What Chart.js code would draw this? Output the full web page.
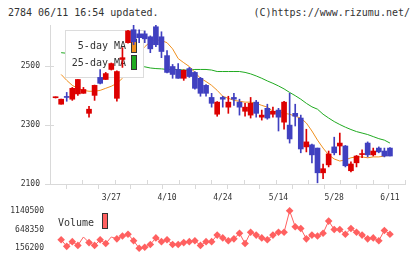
<!DOCTYPE html>
<html>
<head>
<meta charset="utf-8">
<script src="https://cdn.jsdelivr.net/npm/chart.js@4"></script>
<style>
  body { margin: 0; background: #fff; width: 420px; height: 259px; overflow: hidden; position: relative;
         font-family: "DejaVu Sans Mono", monospace; color: #333; }
  .hd { position: absolute; top: 7px; font-size: 10px; line-height: 11px; white-space: nowrap; }
  #priceChart { position: absolute; left: 0; top: 0; }
  #volumeChart { position: absolute; left: 0; top: 200px; }
</style>
</head>
<body>
<div class="hd" style="left:8px">2784 06/11 16:54 updated.</div>
<div class="hd" style="right:10px">(C)https://www.rizumu.net/</div>
<canvas id="priceChart" width="420" height="206"></canvas>
<canvas id="volumeChart" width="420" height="59"></canvas>
<script>
// candles, day 1 .. day 61
const opens  = [2393, 2371, 2396, 2388, 2406, 2408, 2340, 2401, 2462, 2455, 2489, 2391, 2523, 2580, 2624, 2610, 2610, 2600, 2634, 2600,
                2536, 2499, 2489, 2459, 2492, 2479, 2459, 2435, 2394, 2337, 2394, 2361, 2394, 2378, 2347, 2334, 2378, 2327, 2357, 2337,
                2351, 2310, 2300, 2340, 2324, 2226, 2233, 2222, 2138, 2165, 2226, 2229, 2229, 2145, 2172, 2200, 2239, 2199, 2222, 2212, 2222];
const highs  = [2396, 2388, 2411, 2428, 2455, 2428, 2364, 2436, 2489, 2479, 2511, 2484, 2563, 2622, 2640, 2624, 2620, 2603, 2640, 2617,
                2553, 2506, 2509, 2488, 2496, 2482, 2462, 2438, 2408, 2380, 2398, 2398, 2408, 2388, 2374, 2394, 2384, 2351, 2371, 2361,
                2357, 2381, 2408, 2371, 2334, 2286, 2236, 2222, 2168, 2212, 2259, 2273, 2231, 2175, 2197, 2216, 2243, 2222, 2226, 2222, 2224];
const lows   = [2392, 2371, 2381, 2384, 2401, 2408, 2327, 2384, 2440, 2455, 2487, 2381, 2496, 2578, 2573, 2580, 2580, 2546, 2566, 2529,
                2477, 2459, 2459, 2452, 2462, 2422, 2398, 2398, 2361, 2330, 2361, 2340, 2367, 2334, 2330, 2324, 2327, 2317, 2320, 2327,
                2280, 2286, 2239, 2297, 2206, 2209, 2172, 2104, 2118, 2158, 2199, 2199, 2158, 2141, 2158, 2189, 2192, 2195, 2206, 2192, 2195];
const closes = [2395, 2388, 2394, 2425, 2455, 2421, 2354, 2435, 2442, 2475, 2509, 2482, 2529, 2620, 2583, 2597, 2593, 2559, 2573, 2550,
                2479, 2472, 2459, 2486, 2465, 2425, 2408, 2408, 2374, 2378, 2388, 2378, 2388, 2361, 2361, 2374, 2340, 2334, 2324, 2347,
                2327, 2378, 2253, 2330, 2219, 2243, 2199, 2138, 2152, 2202, 2206, 2239, 2162, 2168, 2195, 2203, 2199, 2212, 2209, 2195, 2195];

const ma5  = [null, 2472, 2452, 2435, 2425, 2418, 2415, 2415, 2418, 2425, 2432, 2442, 2459, 2492, 2519, 2546, 2566, 2583, 2590, 2587,
              2580, 2559, 2526, 2512, 2499, 2479, 2459, 2448, 2435, 2418, 2398, 2391, 2384, 2381, 2378, 2378, 2374, 2367, 2361, 2347,
              2344, 2340, 2337, 2330, 2324, 2307, 2280, 2249, 2222, 2199, 2185, 2178, 2182, 2189, 2192, 2192, 2189, 2192, 2192, 2195, 2199];
const ma25 = [null, 2546, 2544, 2541, 2538, 2535, 2531, 2528, 2524, 2520, 2516, 2512, 2508, 2505, 2502, 2500, 2498, 2494, 2492, 2491,
              2489, 2489, 2489, 2487, 2487, 2489, 2489, 2489, 2487, 2482, 2482, 2482, 2482, 2482, 2479, 2474, 2467, 2459, 2450, 2442,
              2433, 2423, 2411, 2400, 2388, 2374, 2362, 2354, 2337, 2324, 2312, 2302, 2293, 2285, 2278, 2273, 2268, 2261, 2254, 2249, 2239];
const volumes = [null, 377700, 205400, 328500, 230000, 451500, 303800, 230000, 377700, 279200, 451500, 402300, 476100, 525300, 353100,
                 156200, 180800, 254600, 426900, 328500, 377700, 254600, 254600, 303800, 328500, 353100, 230000, 328500, 328500, 500700,
                 426900, 353100, 402300, 549900, 279200, 574500, 500700, 426900, 377700, 500700, 574500, 574500, 1140500, 722200, 673000,
                 402300, 500700, 476100, 549900, 869800, 648400, 648400, 525300, 673000, 574500, 500700, 402300, 426900, 353100, 623700, 525300];

const priceTicks = [2100, 2300, 2500];
const volumeTicks = [156200, 648350, 1140500];
const tickDays = [11, 21, 31, 41, 51, 61];
const tickLabels = ['3/27', '4/10', '4/24', '5/14', '5/28', '6/11'];

const X_MAX = 63.7;
const gridDays = Array.from({ length: 12 }, (_, k) => k * X_MAX / 11);
const UP = '#dd0000', DOWN = '#4040c0', AXIS = '#d9d9d9';
const tickFont = { family: 'DejaVu Sans Mono', size: 8 };

const candleColor = closes.map((c, i) => c >= opens[i] ? UP : DOWN);
const pts = arr => arr.map((v, i) => ({ x: i + 1, y: v }));

// legend box sits above the MA lines but under the candles
const priceLegend = {
  id: 'priceLegend',
  beforeDatasetDraw(chart, args) {
    if (args.index !== 2) return;
    const c = chart.ctx;
    c.save();
    c.fillStyle = '#fff';
    c.strokeStyle = '#dcdcdc';
    c.lineWidth = 1;
    c.fillRect(65.5, 30.5, 78, 47);
    c.strokeRect(65.5, 30.5, 78, 47);
    c.fillStyle = '#333';
    c.font = '10px "DejaVu Sans Mono"';
    c.textAlign = 'right';
    c.textBaseline = 'alphabetic';
    c.fillText('5-day MA', 126, 49);
    c.fillText('25-day MA', 126, 66);
    c.strokeStyle = '#333';
    c.fillStyle = '#f0901e';
    c.fillRect(131.5, 39.5, 5, 13);
    c.strokeRect(131.5, 39.5, 5, 13);
    c.fillStyle = '#20aa20';
    c.fillRect(131.5, 55.5, 5, 14);
    c.strokeRect(131.5, 55.5, 5, 14);
    c.restore();
  }
};

// small tick stubs crossing into the plot area
const tickStubs = {
  id: 'tickStubs',
  beforeDatasetsDraw(chart) {
    const c = chart.ctx, x = chart.scales.x, y = chart.scales.y;
    c.save();
    c.strokeStyle = AXIS;
    c.lineWidth = 1;
    c.beginPath();
    gridDays.forEach(d => {
      const px = Math.round(x.getPixelForValue(d)) + 0.5;
      c.moveTo(px, y.bottom - 4); c.lineTo(px, y.bottom);
    });
    priceTicks.forEach(v => {
      const py = Math.round(y.getPixelForValue(v)) + 0.5;
      c.moveTo(x.left, py); c.lineTo(x.left + 4, py);
    });
    c.stroke();
    c.restore();
  }
};

new Chart(document.getElementById('priceChart'), {
  type: 'bar',
  data: {
    datasets: [
      { type: 'line', data: pts(ma5), borderColor: '#f0901e', borderWidth: 1, pointRadius: 0, order: 3 },
      { type: 'line', data: pts(ma25), borderColor: '#20aa20', borderWidth: 1, pointRadius: 0, order: 4 },
      { data: lows.map((l, i) => ({ x: i + 1, y: [l, highs[i]] })), backgroundColor: candleColor,
        barThickness: 1, grouped: false, order: 2 },
      { data: opens.map((o, i) => ({ x: i + 1, y: [o, closes[i]] })), backgroundColor: candleColor,
        barThickness: 5, minBarLength: 1, grouped: false, order: 1 }
    ]
  },
  options: {
    responsive: false,
    animation: false,
    layout: { padding: { top: 25, right: 15, left: 0, bottom: 0 } },
    plugins: { legend: { display: false }, tooltip: { enabled: false } },
    scales: {
      x: {
        type: 'linear', min: 0, max: X_MAX, offset: false,
        afterBuildTicks: s => { s.ticks = gridDays.concat(tickDays).map(v => ({ value: v })); },
        afterFit: s => { s.height = 22; },
        ticks: {
          autoSkip: false, maxRotation: 0, padding: 4, font: tickFont, color: '#333',
          callback: v => { const k = tickDays.indexOf(v); return k < 0 ? '' : tickLabels[k]; }
        },
        grid: {
          drawOnChartArea: false, tickLength: 5,
          color: ctx => (ctx.tick && tickDays.includes(ctx.tick.value)) ? 'rgba(0,0,0,0)' : AXIS
        },
        border: { color: AXIS }
      },
      y: {
        min: 2100, max: 2640,
        afterBuildTicks: s => { s.ticks = priceTicks.map(v => ({ value: v })); },
        afterFit: s => { s.width = 50; },
        ticks: { padding: 5, font: tickFont, color: '#333', callback: v => String(v) },
        grid: { drawOnChartArea: false, tickLength: 5, color: AXIS },
        border: { color: AXIS }
      }
    }
  },
  plugins: [tickStubs, priceLegend]
});

const volumeLegend = {
  id: 'volumeLegend',
  afterDraw(chart) {
    const c = chart.ctx;
    c.save();
    c.fillStyle = '#333';
    c.font = '10px "DejaVu Sans Mono"';
    c.textAlign = 'left';
    c.textBaseline = 'middle';
    c.fillText('Volume', 58, 23);
    c.fillStyle = '#ff6060';
    c.strokeStyle = '#333';
    c.lineWidth = 1;
    c.fillRect(102.5, 13.5, 5, 15);
    c.strokeRect(102.5, 13.5, 5, 15);
    c.restore();
  }
};

new Chart(document.getElementById('volumeChart'), {
  type: 'line',
  data: {
    datasets: [{
      data: pts(volumes),
      borderColor: '#ff6060', borderWidth: 1,
      pointStyle: 'rectRot',
      pointRadius: volumes.map((v, i) => (i === 5 || i === 10) ? 0 : 3.8),
      pointBackgroundColor: '#ff6060', pointBorderWidth: 0,
      clip: false
    }]
  },
  options: {
    responsive: false,
    animation: false,
    layout: { padding: { top: 9, right: 15, left: 0, bottom: 10 } },
    plugins: { legend: { display: false }, tooltip: { enabled: false } },
    scales: {
      x: { type: 'linear', min: 0, max: X_MAX, display: false },
      y: {
        min: 156200, max: 1140500,
        afterBuildTicks: s => { s.ticks = volumeTicks.map(v => ({ value: v })); },
        afterFit: s => { s.width = 50; },
        ticks: { padding: 6, font: tickFont, color: '#333', callback: v => String(v) },
        grid: { display: false, drawTicks: false },
        border: { display: false }
      }
    }
  },
  plugins: [volumeLegend]
});
</script>
</body>
</html>
